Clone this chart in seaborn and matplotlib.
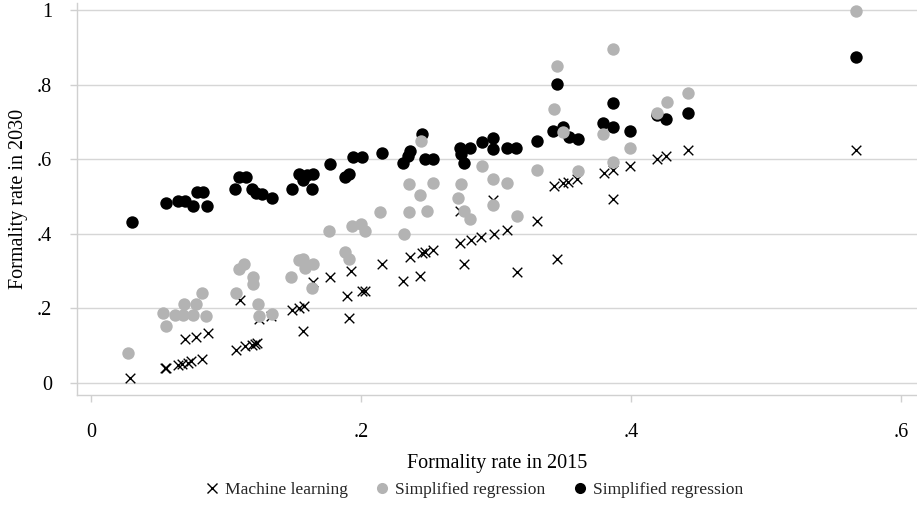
import numpy as np
import pandas as pd
import seaborn as sns
import matplotlib.pyplot as plt
from matplotlib.lines import Line2D

# ---------------- data ----------------
ml_x = [0.0289, 0.0548, 0.0559, 0.0644, 0.0674, 0.0715, 0.0741, 0.0822, 0.0694, 0.0776,
        0.0865, 0.1104, 0.1072, 0.1139, 0.1193, 0.1215, 0.1232, 0.1248, 0.1333, 0.1487,
        0.1542, 0.1578, 0.1570, 0.1647, 0.1770, 0.1926, 0.1894, 0.1911, 0.2007, 0.2030,
        0.2153, 0.2313, 0.2363, 0.2441, 0.2450, 0.2474, 0.2536, 0.2733, 0.2733, 0.2813,
        0.2887, 0.2763, 0.2980, 0.2987, 0.3085, 0.3153, 0.3306, 0.3430, 0.3500, 0.3536,
        0.3598, 0.3454, 0.3800, 0.3869, 0.3869, 0.3993, 0.4190, 0.4259, 0.4420, 0.5670]
ml_y = [0.0126, 0.0394, 0.0410, 0.0496, 0.0515, 0.0550, 0.0590, 0.0643, 0.1185, 0.1233,
        0.1332, 0.2225, 0.0893, 0.0984, 0.1019, 0.1054, 0.1064, 0.1716, 0.1810, 0.1957,
        0.2024, 0.2056, 0.1386, 0.2716, 0.2834, 0.2995, 0.2332, 0.1735, 0.2458, 0.2466,
        0.3190, 0.2740, 0.3386, 0.2877, 0.3477, 0.3520, 0.3566, 0.4600, 0.3767, 0.3834,
        0.3914, 0.3185, 0.4906, 0.3987, 0.4100, 0.2984, 0.4335, 0.5287, 0.5354, 0.5397,
        0.5464, 0.3316, 0.5635, 0.5710, 0.4925, 0.5826, 0.5997, 0.6094, 0.6247, 0.6247]

gray_x = [0.0276, 0.0536, 0.0554, 0.0622, 0.0684, 0.0690, 0.0758, 0.0781, 0.0820, 0.0854,
          0.1072, 0.1094, 0.1137, 0.1200, 0.1200, 0.1239, 0.1246, 0.1339, 0.1481, 0.1542,
          0.1573, 0.1585, 0.1647, 0.1637, 0.1763, 0.1884, 0.1910, 0.1931, 0.1999, 0.2030,
          0.2141, 0.2319, 0.2358, 0.2358, 0.2435, 0.2446, 0.2491, 0.2531, 0.2739, 0.2721,
          0.2763, 0.2807, 0.2894, 0.2978, 0.2978, 0.3085, 0.3153, 0.3306, 0.3430, 0.3450,
          0.3499, 0.3610, 0.3791, 0.3869, 0.3869, 0.3993, 0.4190, 0.4264, 0.4425, 0.5670]
gray_y = [0.0810, 0.1885, 0.1530, 0.1820, 0.1820, 0.2110, 0.1820, 0.2110, 0.2420, 0.1800,
          0.2405, 0.3050, 0.3185, 0.2840, 0.2646, 0.2110, 0.1800, 0.1845, 0.2834, 0.3300,
          0.3330, 0.3090, 0.3185, 0.2560, 0.4080, 0.3520, 0.3320, 0.4217, 0.4255, 0.4080,
          0.4590, 0.3995, 0.5330, 0.4590, 0.5030, 0.6496, 0.4620, 0.5370, 0.5330, 0.4960,
          0.4625, 0.4400, 0.5810, 0.5480, 0.4770, 0.5370, 0.4470, 0.5710, 0.7340, 0.8510,
          0.6720, 0.5690, 0.6670, 0.8970, 0.5930, 0.6290, 0.7230, 0.7525, 0.7767, 0.9980]

black_x = [0.0300, 0.0553, 0.0648, 0.0696, 0.0758, 0.0783, 0.0832, 0.0856, 0.1068, 0.1100,
           0.1148, 0.1193, 0.1222, 0.1264, 0.1339, 0.1487, 0.1543, 0.1573, 0.1598, 0.1635,
           0.1647, 0.1770, 0.1880, 0.1913, 0.1943, 0.2005, 0.2153, 0.2313, 0.2350, 0.2363,
           0.2450, 0.2474, 0.2536, 0.2737, 0.2739, 0.2765, 0.2807, 0.2894, 0.2981, 0.2980,
           0.3085, 0.3150, 0.3306, 0.3424, 0.3454, 0.3499, 0.3541, 0.3610, 0.3790, 0.3870,
           0.3870, 0.3990, 0.4190, 0.4260, 0.4425, 0.5670]
black_y = [0.4330, 0.4820, 0.4880, 0.4880, 0.4745, 0.5120, 0.5120, 0.4745, 0.5200, 0.5530,
           0.5530, 0.5200, 0.5100, 0.5060, 0.4960, 0.5210, 0.5600, 0.5440, 0.5580, 0.5200,
           0.5600, 0.5870, 0.5530, 0.5600, 0.6070, 0.6070, 0.6170, 0.5910, 0.6090, 0.6230,
           0.6680, 0.6000, 0.6000, 0.6290, 0.6140, 0.5890, 0.6290, 0.6470, 0.6580, 0.6270,
           0.6310, 0.6310, 0.6500, 0.6760, 0.8020, 0.6870, 0.6600, 0.6550, 0.6960, 0.7510,
           0.6870, 0.6760, 0.7180, 0.7070, 0.7250, 0.8730]

x_ticks = [0, 0.2, 0.4, 0.6]
x_tick_labels = ["0", ".2", ".4", ".6"]
y_ticks = [0, 0.2, 0.4, 0.6, 0.8, 1.0]
y_tick_labels = ["0", ".2", ".4", ".6", ".8", "1"]

series_labels = ["Machine learning", "Simplified regression", "Simplified regression"]
x_label = "Formality rate in 2015"
y_label = "Formality rate in 2030"

# ---------------- styling ----------------
sns.set_theme(style="white")
plt.rcParams['font.family'] = ['Liberation Serif', 'DejaVu Serif']
FS = 14.5
FS_LEG = 12.6
GRAY = "#b3b3b3"
AXC = "#d0d0d0"

fig = plt.figure(figsize=(9.17, 5.05), dpi=100)
ax = fig.add_axes([77 / 917, 110 / 505, 840 / 917, 392 / 505])

df_ml = pd.DataFrame({"x": ml_x, "y": ml_y})
df_gray = pd.DataFrame({"x": gray_x, "y": gray_y})
df_black = pd.DataFrame({"x": black_x, "y": black_y})

sns.scatterplot(data=df_ml, x="x", y="y", marker="x", color="black", s=48,
                linewidth=1.0, ax=ax, zorder=3, legend=False)
sns.scatterplot(data=df_black, x="x", y="y", marker="o", color="black", s=80,
                linewidth=0, ax=ax, zorder=4, legend=False)
sns.scatterplot(data=df_gray, x="x", y="y", marker="o", color=GRAY, s=80,
                linewidth=0, ax=ax, zorder=5, legend=False)

ax.set_xlim(-0.0104, 0.612)
ax.set_ylim(-0.032, 1.019)
ax.set_xticks(x_ticks)
ax.set_xticklabels(x_tick_labels)
ax.set_yticks(y_ticks)
ax.set_yticklabels(y_tick_labels)

ax.yaxis.grid(True, color="#d6d6d6", linewidth=1.0)
ax.xaxis.grid(False)
ax.set_axisbelow(True)
for side in ["top", "right"]:
    ax.spines[side].set_visible(False)
for side in ["left", "bottom"]:
    ax.spines[side].set_color(AXC)
    ax.spines[side].set_linewidth(1.0)

ax.tick_params(axis="both", which="major", length=5, width=1.0, color=AXC,
               labelsize=FS, labelcolor="black")
ax.tick_params(axis="x", pad=15, bottom=True)
ax.tick_params(axis="y", pad=13, left=True)

ax.set_xlabel(x_label, fontsize=FS, labelpad=8.5, color="black")
ax.set_ylabel(y_label, fontsize=FS, labelpad=6.5, color="black")

handles = [
    Line2D([], [], marker="x", color="black", linestyle="none", markersize=7, markeredgewidth=1.0),
    Line2D([], [], marker="o", color=GRAY, linestyle="none", markersize=8, markeredgewidth=0),
    Line2D([], [], marker="o", color="black", linestyle="none", markersize=8, markeredgewidth=0),
]
fig.legend(handles, series_labels, loc="center", bbox_to_anchor=(0.516, 1 - 490 / 505),
           ncol=3, frameon=False, fontsize=FS_LEG, handletextpad=0.25, columnspacing=1.45,
           handlelength=1.0, borderaxespad=0)

fig.savefig("out.png", dpi=100)
